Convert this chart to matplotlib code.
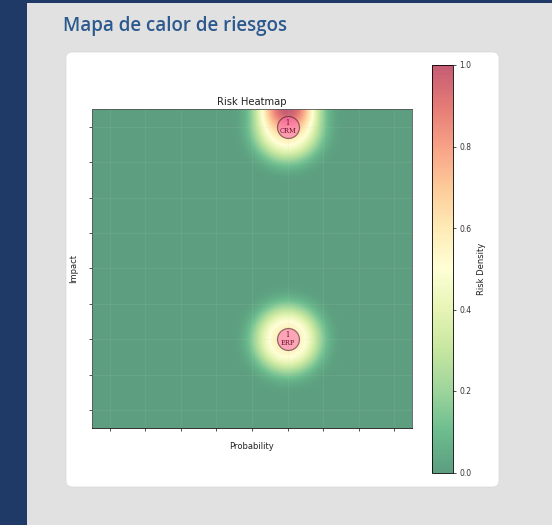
import numpy as np
import matplotlib
matplotlib.use("Agg")
import matplotlib.pyplot as plt
from matplotlib.patches import Rectangle, FancyBboxPatch

# ---- data ----
risk_names = ["CRM", "ERP"]
probability = [6, 6]
impact = [9, 3]
risk_counts = [1, 1]
tick_values = list(range(1, 10))
cbar_ticks = [0.0, 0.2, 0.4, 0.6, 0.8, 1.0]

W, H = 552, 525
fig = plt.figure(figsize=(W / 100, H / 100), dpi=100)
fig.patch.set_facecolor("#e1e1e1")


def fx(x):
    return x / W


def fy(y):
    return 1 - y / H


# page background pieces
fig.add_artist(Rectangle((0, 0), fx(27), 1, transform=fig.transFigure,
                         facecolor="#1f3a66", edgecolor="none", zorder=-3))
fig.add_artist(Rectangle((0, fy(3)), 1, 3 / H, transform=fig.transFigure,
                         facecolor="#1f3a66", edgecolor="none", zorder=-3))
fig.add_artist(FancyBboxPatch((fx(66), fy(487)), fx(499) - fx(66), fy(52) - fy(487),
                              boxstyle="round,pad=0,rounding_size=0.012",
                              transform=fig.transFigure, facecolor="white",
                              edgecolor="#d8d8d8", linewidth=0.5, zorder=-2))
fig.text(fx(63), fy(26), "Mapa de calor de riesgos", fontsize=13.5,
         family=["Open Sans", "DejaVu Sans"], fontweight="semibold",
         color="#2c5a8e", ha="left", va="center")

# ---- heat field from the risks ----
lo, hi = 0.5, 9.5
n = 300
gx = np.linspace(lo, hi, n)
gy = np.linspace(lo, hi, n)
XX, YY = np.meshgrid(gx, gy)
Z = np.zeros_like(XX)
s = 0.92


def kern(px, py):
    d = np.sqrt((XX - px) ** 2 + (YY - py) ** 2)
    return np.exp(-(d / s) ** 3)


for p, im_, c in zip(probability, impact, risk_counts):
    for mx in (p, 2 * lo - p, 2 * hi - p):
        for my in (im_, 2 * lo - im_, 2 * hi - im_):
            Z += c * kern(mx, my)
Z = Z / Z.max()

ax = fig.add_axes([fx(92), fy(428), fx(412) - fx(92), fy(109) - fy(428)])
img = ax.imshow(Z, extent=[lo, hi, lo, hi], origin="lower", cmap="RdYlGn_r",
                alpha=0.64, vmin=0, vmax=1, aspect="auto", interpolation="bilinear")
ax.set_xlim(lo, hi)
ax.set_ylim(lo, hi)
ax.set_xticks(tick_values)
ax.set_yticks(tick_values)
ax.set_xticklabels([])
ax.set_yticklabels([])
ax.tick_params(length=2.5, width=0.6, color="#333333")
ax.grid(True, color="#d0d0d0", alpha=0.12, linewidth=0.6)
for sp in ax.spines.values():
    sp.set_linewidth(0.6)
    sp.set_color("#555555")
ax.spines["bottom"].set_color("#111111")

ax.scatter(probability, impact, s=250, c="hotpink", alpha=0.55,
           edgecolors="#3a1a1a", linewidths=0.9, zorder=3)
for name, p, im_, c in zip(risk_names, probability, impact, risk_counts):
    ax.text(p, im_, f"{c}\n{name}", ha="center", va="center", fontsize=4.8,
            color="#6a1030", linespacing=1.0, zorder=4,
            family=["DejaVu Serif", "DejaVu Sans"])

ax.set_title("Risk Heatmap", fontsize=7.2, pad=3, color="#222222")
ax.set_xlabel("Probability", fontsize=6, labelpad=4, color="#222222")
ax.set_ylabel("Impact", fontsize=6, labelpad=4, color="#222222")

cax = fig.add_axes([fx(432), fy(472.5), fx(453) - fx(432), fy(65) - fy(472.5)])
cb = fig.colorbar(img, cax=cax, ticks=cbar_ticks)
cb.outline.set_linewidth(0.6)
cb.ax.tick_params(labelsize=5.5, length=2.5, width=0.6, pad=2, colors="#333333")
cb.set_label("Risk Density", fontsize=6, labelpad=4, color="#222222")

fig.savefig("out.png", dpi=100, facecolor=fig.get_facecolor())
